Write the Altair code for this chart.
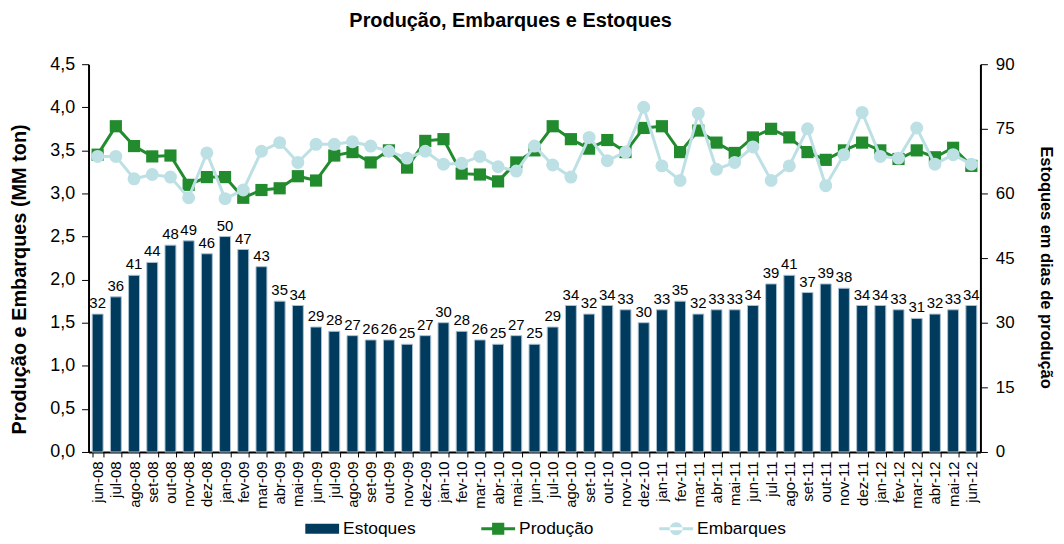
import altair as alt
import pandas as pd

months = ["jun-08","jul-08","ago-08","set-08","out-08","nov-08","dez-08","jan-09","fev-09","mar-09",
          "abr-09","mai-09","jun-09","jul-09","ago-09","set-09","out-09","nov-09","dez-09","jan-10",
          "fev-10","mar-10","abr-10","mai-10","jun-10","jul-10","ago-10","set-10","out-10","nov-10",
          "dez-10","jan-11","fev-11","mar-11","abr-11","mai-11","jun-11","jul-11","ago-11","set-11",
          "out-11","nov-11","dez-11","jan-12","fev-12","mar-12","abr-12","mai-12","jun-12"]

estoques = [32,36,41,44,48,49,46,50,47,43,35,34,29,28,27,26,26,25,27,30,28,26,25,27,25,29,34,32,34,33,
            30,33,35,32,33,33,34,39,41,37,39,38,34,34,33,31,32,33,34]

producao = [3.45,3.78,3.55,3.43,3.44,3.10,3.19,3.19,2.95,3.04,3.06,3.20,3.15,3.44,3.48,3.36,3.50,3.30,
            3.61,3.63,3.23,3.22,3.14,3.36,3.50,3.78,3.63,3.52,3.62,3.48,3.76,3.78,3.48,3.73,3.59,3.47,
            3.65,3.75,3.65,3.48,3.39,3.50,3.59,3.50,3.40,3.50,3.42,3.53,3.32]

embarques = [3.43,3.43,3.17,3.22,3.19,2.95,3.47,2.94,3.04,3.49,3.59,3.36,3.57,3.57,3.60,3.55,3.49,3.41,
             3.49,3.34,3.35,3.43,3.31,3.26,3.55,3.33,3.19,3.65,3.38,3.48,4.00,3.32,3.15,3.93,3.28,3.36,
             3.54,3.15,3.32,3.75,3.09,3.45,3.94,3.43,3.41,3.76,3.34,3.45,3.34]

series = ["Estoques", "Produção", "Embarques"]
colors = ["#003a5c", "#228b2e", "#bde0e5"]

FONT = "Liberation Sans"

bars_df = pd.DataFrame({"mes": months, "dias": estoques})
prod_df = pd.DataFrame({"mes": months, "valor": producao, "serie": "Produção"})
emb_df = pd.DataFrame({"mes": months, "valor": embarques, "serie": "Embarques"})

x_enc = alt.X("mes:N", sort=months, title=None,
              scale=alt.Scale(paddingInner=0.4, paddingOuter=0.2),
              axis=alt.Axis(labelAngle=-90, labelFont=FONT, labelFontSize=15, labelColor="#000",
                            tickBand="extent", domainColor="#000", domainWidth=2, tickColor="#000",
                            tickSize=5, labelPadding=4, labelOverlap=False))
x_plain = alt.X("mes:N", sort=months)

y_right = alt.Y("dias:Q", title="Estoques em dias de produção",
                scale=alt.Scale(domain=[0, 90], nice=False),
                axis=alt.Axis(orient="right", values=[0, 15, 30, 45, 60, 75, 90], grid=False,
                              labelFont=FONT, labelFontSize=17, labelColor="#000",
                              titleFont=FONT, titleFontSize=16.5, titleFontWeight="bold", titleColor="#000",
                              domainColor="#000", domainWidth=2, tickColor="#000", tickSize=7,
                              labelPadding=8, titlePadding=24, titleY=204))

bars = alt.Chart(bars_df).mark_bar(color=colors[0], stroke="#a9c2d3", strokeWidth=1).encode(
    x=x_enc, y=y_right)

labels = alt.Chart(bars_df).mark_text(font=FONT, fontSize=15, color="#000", baseline="bottom", dy=-3).encode(
    x=x_plain, y=alt.Y("dias:Q"), text="dias:Q")

y_left = alt.Y("valor:Q", title="Produção e Embarques (MM ton)",
               scale=alt.Scale(domain=[0, 4.5], nice=False),
               axis=alt.Axis(orient="left", values=[0, 0.5, 1, 1.5, 2, 2.5, 3, 3.5, 4, 4.5], grid=False,
                             labelExpr="replace(format(datum.value, '.1f'), '.', ',')",
                             labelFont=FONT, labelFontSize=18, labelColor="#000",
                             titleFont=FONT, titleFontSize=20, titleFontWeight="bold", titleColor="#000",
                             domainColor="#000", domainWidth=2, tickColor="#000", tickSize=7,
                             labelPadding=7, titlePadding=20, titleY=216))
y_plain = alt.Y("valor:Q")

prod_line = alt.Chart(prod_df).mark_line(color=colors[1], strokeWidth=3).encode(x=x_plain, y=y_left)
prod_pts = alt.Chart(prod_df).mark_point(shape="square", filled=True, opacity=1, size=150,
                                         color=colors[1]).encode(x=x_plain, y=y_plain)
emb_line = alt.Chart(emb_df).mark_line(color=colors[2], strokeWidth=3).encode(x=x_plain, y=y_plain)
emb_pts = alt.Chart(emb_df).mark_point(shape="circle", filled=True, opacity=1, size=170,
                                       color=colors[2]).encode(x=x_plain, y=y_plain)

# legend symbols: bar swatch, line with square, line with circle
bar_path = "M-1,-0.3 L1,-0.3 L1,0.3 L-1,0.3 Z"
sq_path = "M-1,-0.09 L1,-0.09 L1,0.09 L-1,0.09 Z M-0.36,-0.36 L0.36,-0.36 L0.36,0.36 L-0.36,0.36 Z"
ci_path = ("M-1,-0.09 L1,-0.09 L1,0.09 L-1,0.09 Z "
           "M-0.38,0 A0.38,0.38 0 1,0 0.38,0 A0.38,0.38 0 1,0 -0.38,0 Z")

legend = alt.Legend(title=None, orient="none", legendX=218, legendY=450, direction="horizontal",
                    symbolSize=1156, symbolStrokeWidth=0, symbolOpacity=1, labelFont=FONT,
                    labelFontSize=17.5, labelColor="#000", columnPadding=66, labelOffset=4)

leg_layer = alt.Chart(prod_df).transform_filter("datum.valor < 0").mark_point(filled=True).encode(
    x=x_plain, y=y_plain,
    color=alt.Color("serie:N", scale=alt.Scale(domain=series, range=colors), legend=legend),
    shape=alt.Shape("serie:N", scale=alt.Scale(domain=series, range=[bar_path, sq_path, ci_path]),
                    legend=legend),
)

left = alt.layer(prod_line, prod_pts, emb_line, emb_pts, leg_layer)
right = alt.layer(bars, labels)

chart = alt.layer(right, left).resolve_scale(y="independent").properties(
    width=897, height=390,
    title=alt.TitleParams("Produção, Embarques e Estoques", font=FONT, fontSize=20, fontWeight="bold",
                          color="#000", anchor="middle", offset=24, dx=-24),
    padding={"left": 81, "top": 55, "right": 76, "bottom": 85},
    autosize=alt.AutoSizeParams(type="none"),
).configure_view(stroke=None).configure_point(strokeWidth=0)

chart.save("out.html", embed_options={"renderer": "svg", "actions": False})
